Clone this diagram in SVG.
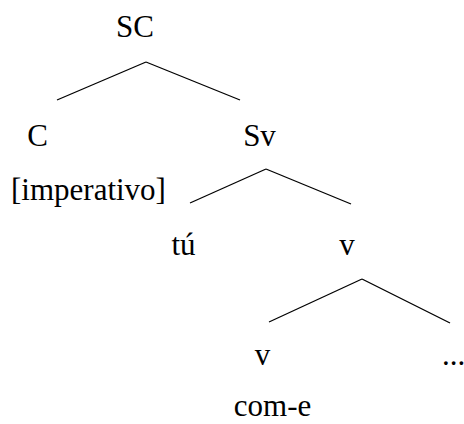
<svg xmlns="http://www.w3.org/2000/svg" width="464" height="424" viewBox="0 0 464 424">
<style>
text{font-family:"Liberation Serif","Times New Roman",serif;font-size:31px;fill:#000}
.m{text-anchor:middle}
line{stroke:#000;stroke-width:1.3}
</style>
<rect width="464" height="424" fill="#fff"/>
<g id="connectors">
<line x1="57" y1="100" x2="146" y2="62"/>
<line x1="146" y1="62" x2="240" y2="100"/>
<line x1="190" y1="203" x2="266" y2="169"/>
<line x1="266" y1="169" x2="351" y2="204"/>
<line x1="269" y1="322" x2="362" y2="279"/>
<line x1="362" y1="279" x2="450" y2="323"/>
</g>
<g id="SC"><text class="m" x="135" y="37">SC</text></g>
<g id="C"><text class="m" x="37.5" y="146">C</text><text x="11" y="200">[imperativo]</text></g>
<g id="Sv"><text class="m" x="259.5" y="146">Sv</text></g>
<g id="tu"><text class="m" x="183.5" y="255">tú</text></g>
<g id="v1"><text class="m" x="347" y="255">v</text></g>
<g id="v2"><text class="m" x="262.5" y="365">v</text><text class="m" x="272.5" y="416">com-e</text></g>
<g id="dots"><text x="442" y="365">...</text></g>
</svg>
